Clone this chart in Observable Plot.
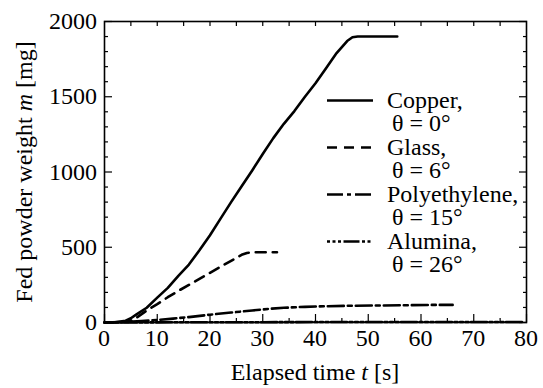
<!DOCTYPE html>
<html>
<head>
<meta charset="utf-8">
<script src="https://cdn.jsdelivr.net/npm/d3@7"></script>
<script src="https://cdn.jsdelivr.net/npm/@observablehq/plot@0.6"></script>
<style>
  html, body { margin: 0; padding: 0; background: #fff; }
  #wrap { position: relative; width: 543px; height: 388px; overflow: hidden; }
  #chart { position: absolute; left: 0; top: 0; width: 543px; height: 388px; }
  #labels { position: absolute; left: 0; top: 0; width: 543px; height: 388px; pointer-events: none; }
  .t { position: absolute; font-family: "Liberation Serif"; font-size: 24px; line-height: 24px; color: #000; white-space: nowrap; }
</style>
</head>
<body>
<div id="wrap">
  <div id="chart"></div>
  <div id="labels"></div>
</div>
<script>
// ---- data ----
const copperT = [0, 2, 4, 5, 6, 8, 10, 12, 14, 16, 18, 20, 22, 24, 26, 28, 30, 32, 34, 36, 38, 40, 42, 44, 46, 47, 48, 50, 55.5];
const copperM = [0, 2, 12, 28, 52, 98, 165, 230, 310, 385, 480, 580, 690, 800, 905, 1010, 1120, 1225, 1320, 1405, 1500, 1590, 1690, 1790, 1870, 1895, 1900, 1900, 1900];

const glassT = [0, 3, 5, 6, 8, 10, 12, 14, 16, 18, 20, 22, 24, 25, 26, 27, 28, 30, 32.7];
const glassM = [0, 2, 10, 30, 80, 122, 168, 210, 250, 290, 330, 370, 410, 430, 450, 462, 467, 467, 467];

const polyT = [0, 4, 7, 10, 13, 16, 20, 24, 28, 31, 34, 38, 42, 46, 52, 58, 62, 66];
const polyM = [0, 3, 10, 17, 26, 36, 52, 66, 80, 90, 98, 104, 108, 111, 113, 115, 117, 117];

const aluminaT = [0, 10, 20, 30, 40, 50, 60, 70, 79.5];
const aluminaM = [0, 1, 2, 2, 3, 3, 3, 3, 3];

const seriesNames = ["Copper,", "Glass,", "Polyethylene,", "Alumina,"];
const seriesTheta = ["\u03b8 = 0\u00b0", "\u03b8 = 6\u00b0", "\u03b8 = 15\u00b0", "\u03b8 = 26\u00b0"];
const seriesDash = [null, "10,7", "16,4,4,4", "3,2.5,3,2.5,3,2.5,16,2.5"];

const xMajorTicks = [0, 10, 20, 30, 40, 50, 60, 70, 80];
const xMinorTicks = [5, 15, 25, 35, 45, 55, 65, 75];
const xTopTicks = [5, 10, 15, 20, 25, 30, 35, 40, 45, 50, 55, 60, 65, 70, 75];
const yMajorTicks = [0, 500, 1000, 1500, 2000];
const yMinorTicks = [100, 200, 300, 400, 600, 700, 800, 900, 1100, 1200, 1300, 1400, 1600, 1700, 1800, 1900];

const xTitleHTML = "Elapsed time <i>t</i> [s]";
const yTitleHTML = "Fed powder weight <i>m</i> [mg]";

// ---- build ----
const toRows = (T, M) => T.map((t, i) => ({t, m: M[i]}));
const allSeries = [toRows(copperT, copperM), toRows(glassT, glassM), toRows(polyT, polyM), toRows(aluminaT, aluminaM)];

const W = 543, H = 388;
const lw = 2.6;
const noText = () => "";
const fmt = d3.format("d");

const marks = [];
allSeries.forEach((rows, i) => {
  marks.push(Plot.line(rows, {x: "t", y: "m", stroke: "black", strokeWidth: lw,
    strokeDasharray: seriesDash[i] || undefined, strokeLinejoin: "round", curve: "linear"}));
});
marks.push(
  Plot.axisX(xMajorTicks, {anchor: "bottom", tickSize: 8, dy: -8, tickFormat: noText, label: null, strokeWidth: 1.2}),
  Plot.axisX(xMinorTicks, {anchor: "bottom", tickSize: 4, dy: -4, tickFormat: noText, label: null, strokeWidth: 1.2}),
  Plot.axisX(xTopTicks, {anchor: "top", tickSize: 4, dy: 4, tickFormat: noText, label: null, strokeWidth: 1.2}),
  Plot.axisY(yMajorTicks, {anchor: "left", tickSize: 8, dx: 8, tickFormat: noText, label: null, strokeWidth: 1.2}),
  Plot.axisY(yMinorTicks, {anchor: "left", tickSize: 4, dx: 4, tickFormat: noText, label: null, strokeWidth: 1.2}),
  Plot.axisY(yMajorTicks, {anchor: "right", tickSize: 8, dx: -8, tickFormat: noText, label: null, strokeWidth: 1.2}),
  Plot.axisY(yMinorTicks, {anchor: "right", tickSize: 4, dx: -4, tickFormat: noText, label: null, strokeWidth: 1.2}),
  Plot.frame({stroke: "black", strokeWidth: 1.6})
);

const chart = Plot.plot({
  width: W, height: H,
  marginLeft: 104, marginRight: 17, marginTop: 21, marginBottom: 66,
  x: {domain: [0, 80], label: null},
  y: {domain: [0, 2000], label: null},
  style: {background: "white"},
  marks
});
document.getElementById("chart").appendChild(chart);

const xs = chart.scale("x"), ys = chart.scale("y");
const svg = d3.select(chart);

// legend keys (line samples) in the plot svg
const legX0 = 327, legX1 = 373, legText = 387, legBase0 = 108, rowH = 23.5;
const lg = svg.append("g");
seriesNames.forEach((name, i) => {
  const base = legBase0 + i * 2 * rowH;
  lg.append("line").attr("x1", legX0).attr("x2", legX1).attr("y1", base - 7.5).attr("y2", base - 7.5)
    .attr("stroke", "black").attr("stroke-width", lw).attr("stroke-dasharray", seriesDash[i]);
});

// ---- all text as HTML (serif), positioned from Plot's scales ----
const labels = d3.select("#labels");
const ASC = 20.1; // baseline offset from the top of a 24px line box
const addText = (html, left, baseline, anchor) => {
  const d = labels.append("div").attr("class", "t").html(html)
    .style("top", (baseline - ASC) + "px");
  if (anchor === "middle") d.style("left", left + "px").style("transform", "translateX(-50%)");
  else if (anchor === "end") d.style("right", (W - left) + "px");
  else d.style("left", left + "px");
  return d;
};

const xBottom = ys.apply(0);
xMajorTicks.forEach(v => addText(fmt(v), xs.apply(v), xBottom + 24, "middle"));
const xLeft = xs.apply(0);
yMajorTicks.forEach(v => addText(fmt(v), xLeft - 7, ys.apply(v) + 8.1, "end"));

// axis titles
addText(xTitleHTML, (xs.range[0] + xs.range[1]) / 2, 380, "middle");
const yMid = (ys.range[0] + ys.range[1]) / 2;
labels.append("div").attr("class", "t").html(yTitleHTML)
  .style("left", "23.9px").style("top", yMid + "px")
  .style("transform", "translate(-50%, -50%) rotate(-90deg)");

// legend text
seriesNames.forEach((name, i) => {
  const base = legBase0 + i * 2 * rowH;
  addText(name, legText, base, "start");
  addText(seriesTheta[i], legText + 5, base + rowH, "start");
});
</script>
</body>
</html>
